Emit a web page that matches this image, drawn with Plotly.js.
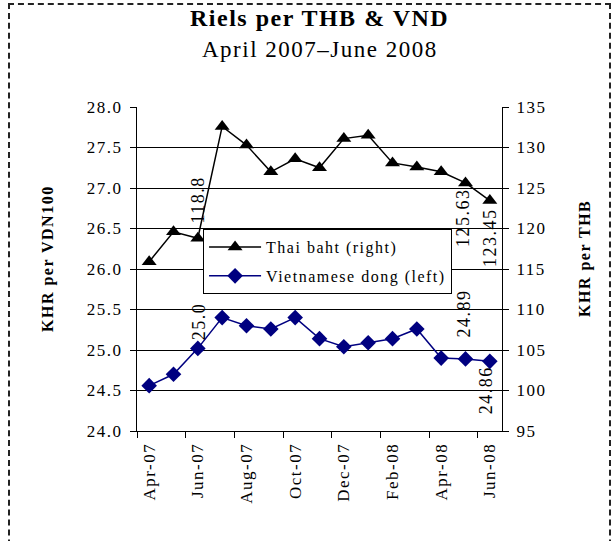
<!DOCTYPE html>
<html>
<head>
<meta charset="utf-8">
<script src="https://cdn.plot.ly/plotly-3.0.1.min.js"></script>
<style>
  html, body { margin: 0; padding: 0; background: #fff; }
  text { letter-spacing: 1.5px; }
  #wrap { position: relative; width: 615px; height: 541px; overflow: hidden; }
  #chart { position: absolute; left: 0; top: 0; width: 615px; height: 541px; }
  #frame { position: absolute; left: 8px; top: 3px; width: 599px; height: 600px;
           border-left: 2px dashed #222; border-top: 2px dashed #222; border-right: 2px dashed #222;
           pointer-events: none; }
</style>
</head>
<body>
<div id="wrap">
  <div id="chart"></div>
  <div id="frame"></div>
</div>
<script>
// ---- data ----
const months = ["Apr-07","May-07","Jun-07","Jul-07","Aug-07","Sep-07","Oct-07","Nov-07",
                "Dec-07","Jan-08","Feb-08","Mar-08","Apr-08","May-08","Jun-08"];
const thbValues = [115.9, 119.6, 118.8, 132.6, 130.3, 127.0, 128.6, 127.5,
                   131.1, 131.5, 128.1, 127.6, 127.0, 125.63, 123.45];
const vndValues = [24.56, 24.70, 25.02, 25.40, 25.30, 25.26, 25.40, 25.14,
                   25.04, 25.09, 25.14, 25.26, 24.90, 24.89, 24.86];
const thbLabelIdx = [2, 13, 14];
const thbLabelText = ["118.8", "125.63", "123.45"];
const vndLabelIdx = [2, 13, 14];
const vndLabelText = ["25.0", "24.89", "24.86"];

// label placement (styling only)
const thbLabelStyle = [
  {yanchor: "bottom", yshift: 13, xshift: 0},
  {yanchor: "top", yshift: -3, xshift: -2},
  {yanchor: "top", yshift: -5, xshift: 0}
];
const vndLabelStyle = [
  {yanchor: "bottom", yshift: 6, xshift: 2},
  {yanchor: "bottom", yshift: 19, xshift: -2},
  {yanchor: "top", yshift: -3, xshift: -3}
];

const serif = "Liberation Serif, Times New Roman, serif";

const traces = [
  {
    x: months, y: thbValues, name: "Thai baht (right)", yaxis: "y2", legendgroup: "a",
    type: "scatter", mode: "lines+markers",
    line: {color: "#000000", width: 1.5},
    marker: {symbol: "triangle-up", size: 13, color: "#000000"}
  },
  {
    x: months, y: vndValues, name: "Vietnamese dong (left)", yaxis: "y", legendgroup: "b",
    type: "scatter", mode: "lines+markers",
    line: {color: "#000080", width: 1.5},
    marker: {symbol: "diamond", size: 12, color: "#000080"}
  }
];

const annotations = [];
thbLabelIdx.forEach((idx, k) => {
  const s = thbLabelStyle[k];
  annotations.push({
    x: months[idx], y: thbValues[idx], xref: "x", yref: "y2",
    text: thbLabelText[k], textangle: -90, showarrow: false,
    xanchor: "center", yanchor: s.yanchor, yshift: s.yshift, xshift: s.xshift,
    font: {family: serif, size: 18, color: "#000"}
  });
});
vndLabelIdx.forEach((idx, k) => {
  const s = vndLabelStyle[k];
  annotations.push({
    x: months[idx], y: vndValues[idx], xref: "x", yref: "y",
    text: vndLabelText[k], textangle: -90, showarrow: false,
    xanchor: "center", yanchor: s.yanchor, yshift: s.yshift, xshift: s.xshift,
    font: {family: serif, size: 18, color: "#000"}
  });
});
// titles
annotations.push({
  xref: "paper", yref: "paper", x: 0.5, y: 1, yshift: 89, xanchor: "center", yanchor: "middle",
  text: "<b>Riels per THB & VND</b>", showarrow: false, borderpad: 0,
  font: {family: serif, size: 24, color: "#000"}
});
annotations.push({
  xref: "paper", yref: "paper", x: 0.5, y: 1, yshift: 58, xanchor: "center", yanchor: "middle",
  text: "April 2007–June 2008", showarrow: false, borderpad: 0,
  font: {family: serif, size: 23, color: "#000"}
});
// axis titles
annotations.push({
  xref: "paper", yref: "paper", x: 0, xshift: -89, y: 0.5, yshift: 10, xanchor: "center", yanchor: "middle",
  text: "<b>KHR per VDN100</b>", textangle: -90, showarrow: false,
  font: {family: serif, size: 16, color: "#000"}
});
annotations.push({
  xref: "paper", yref: "paper", x: 1, xshift: 83, y: 0.5, yshift: 10, xanchor: "center", yanchor: "middle",
  text: "<b>KHR per THB</b>", textangle: -90, showarrow: false,
  font: {family: serif, size: 16, color: "#000"}
});

const layout = {
  width: 615, height: 541,
  margin: {l: 137, r: 113, t: 107, b: 110, pad: 0},
  paper_bgcolor: "rgba(0,0,0,0)", plot_bgcolor: "#fff",
  showlegend: true,
  legend: {
    x: 0.181, y: 0.623, xanchor: "left", yanchor: "top",
    bgcolor: "#fff", bordercolor: "#000", borderwidth: 1,
    font: {family: serif, size: 16, color: "#000"},
    itemwidth: 52, tracegroupgap: 5, traceorder: "grouped"
  },
  xaxis: {
    type: "category", range: [-0.5, 14.5], fixedrange: true,
    tickmode: "linear", tick0: 0, dtick: 2, tickson: "boundaries",
    ticks: "outside", ticklen: 6, tickcolor: "#000", tickwidth: 1, ticklabelstandoff: 4,
    tickangle: -90, tickfont: {family: serif, size: 17, color: "#000"},
    showline: true, linecolor: "#000", linewidth: 1, showgrid: false, zeroline: false
  },
  yaxis: {
    range: [24.0, 28.0], dtick: 0.5, tick0: 24, tickformat: ".1f",
    ticks: "outside", ticklen: 6, tickcolor: "#000", ticklabelstandoff: 4,
    tickfont: {family: serif, size: 17, color: "#000"},
    showline: true, linecolor: "#000", linewidth: 1,
    showgrid: true, gridcolor: "#000", gridwidth: 1, zeroline: false, fixedrange: true
  },
  yaxis2: {
    overlaying: "y", side: "right", range: [95, 135], dtick: 5, tick0: 95,
    ticks: "outside", ticklen: 6, tickcolor: "#000", ticklabelstandoff: 4,
    tickfont: {family: serif, size: 17, color: "#000"},
    showline: true, linecolor: "#000", linewidth: 1,
    showgrid: false, zeroline: false, fixedrange: true
  },
  annotations: annotations
};

Plotly.newPlot("chart", traces, layout, {displayModeBar: false, staticPlot: true});
</script>
</body>
</html>
